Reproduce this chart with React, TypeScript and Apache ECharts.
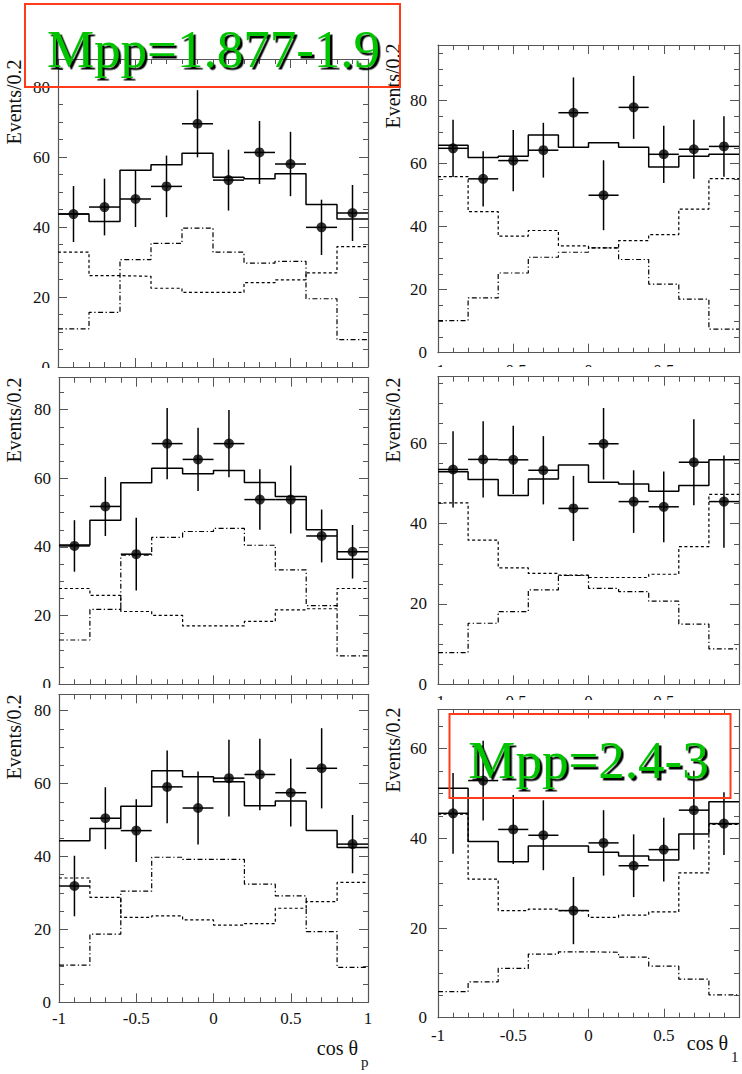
import React, { useEffect, useRef } from "react";
import * as echarts from "echarts";

// ---------- data ----------
const binEdges = [-1, -0.8, -0.6, -0.4, -0.2, 0, 0.2, 0.4, 0.6, 0.8, 1];
const binCenters = [-0.9, -0.7, -0.5, -0.3, -0.1, 0.1, 0.3, 0.5, 0.7, 0.9];
const xTickLabels = ["-1", "-0.5", "0", "0.5", "1"];
const yAxisTitle = "Events/0.2";
const xTitleLeft = "cos θ";
const xTitleLeftSub = "p";
const xTitleRight = "cos θ";
const xTitleRightSub = "1";
const boxLabelTop = "Mpp=1.877-1.9";
const boxLabelBottom = "Mpp=2.4-3";

// panel 1 (top-left)
const p1Data = [43.7, 45.7, 48.0, 51.6, 69.5, 53.4, 61.3, 58.0, 39.9, 44.0];
const p1Err = [8.0, 8.1, 8.0, 8.8, 9.6, 8.7, 9.0, 9.2, 7.9, 8.0];
const p1Fit = [43.7, 41.6, 56.2, 57.8, 61.1, 54.2, 53.8, 55.2, 46.4, 42.3];
const p1Dashed = [32.8, 26.1, 25.9, 22.5, 21.3, 21.3, 24.1, 24.9, 26.9, 34.4];
const p1DashDot = [10.9, 15.6, 30.7, 35.3, 39.7, 32.8, 29.7, 30.2, 19.5, 7.8];
const p1YMax = 88;

// panel 2 (top-right)
const p2Data = [64.9, 55.2, 61.0, 64.3, 76.2, 50.0, 77.9, 63.0, 64.6, 65.5];
const p2Err = [9.1, 8.8, 9.7, 8.7, 11.2, 11.1, 10.0, 9.1, 9.4, 9.6];
const p2Fit = [65.9, 62.0, 62.4, 69.1, 65.2, 66.7, 65.2, 59.0, 62.4, 63.0];
const p2Dashed = [55.9, 44.8, 37.0, 38.8, 33.9, 33.3, 35.6, 37.5, 45.6, 55.3];
const p2DashDot = [10.2, 17.4, 25.3, 30.3, 31.9, 33.3, 29.6, 21.8, 17.0, 7.5];
const p2YMax = 97.7;

// panel 3 (middle-left)
const p3Data = [40.3, 51.8, 37.9, 70.1, 65.5, 70.1, 53.8, 53.8, 43.2, 38.6];
const p3Err = [7.5, 8.6, 10.6, 10.4, 9.2, 9.8, 8.8, 9.9, 7.7, 7.8];
const p3Fit = [40.6, 47.8, 58.7, 62.9, 61.3, 62.3, 58.8, 54.7, 45.0, 36.4];
const p3Dashed = [27.9, 25.9, 21.2, 20.1, 17.0, 17.0, 18.3, 21.7, 22.0, 27.9];
const p3DashDot = [12.9, 21.8, 37.6, 42.8, 44.5, 45.4, 40.5, 33.3, 22.9, 8.3];
const p3YMax = 89.3;

// panel 4 (middle-right)
const p4Data = [53.5, 56.0, 55.9, 53.3, 43.8, 59.9, 45.5, 44.2, 55.3, 45.5];
const p4Err = [9.5, 9.5, 8.5, 8.5, 8.1, 8.9, 7.8, 8.8, 10.7, 11.5];
const p4Fit = [52.9, 51.0, 47.0, 51.1, 54.6, 50.3, 49.9, 48.1, 49.5, 55.9];
const p4Dashed = [45.2, 35.9, 29.0, 27.6, 27.2, 26.6, 26.6, 27.4, 34.3, 47.3];
const p4DashDot = [7.9, 15.2, 18.1, 23.5, 27.1, 23.9, 23.1, 20.7, 15.0, 8.8];
const p4YMax = 76.6;

// panel 5 (bottom-left)
const p5Data = [31.9, 50.5, 47.1, 59.1, 53.3, 61.5, 62.5, 57.5, 64.2, 43.4];
const p5Err = [8.3, 8.5, 8.6, 10.0, 10.0, 10.5, 9.8, 9.3, 11.0, 8.0];
const p5Fit = [44.3, 47.7, 53.8, 63.5, 61.9, 60.5, 53.9, 55.2, 47.1, 42.5];
const p5Dashed = [34.1, 28.8, 23.3, 23.7, 22.6, 21.2, 21.6, 25.8, 27.6, 32.9];
const p5DashDot = [10.2, 18.7, 30.5, 39.8, 39.2, 39.2, 32.4, 29.2, 19.4, 9.6];
const p5YMax = 84.5;

// panel 6 (bottom-right)
const p6Data = [45.6, 52.9, 42.0, 40.7, 23.9, 39.0, 33.9, 37.5, 46.3, 43.3];
const p6Err = [9.0, 8.9, 7.7, 7.8, 7.5, 7.3, 7.0, 7.1, 8.8, 7.0];
const p6Fit = [51.2, 39.3, 34.8, 38.3, 38.3, 36.9, 36.1, 35.2, 41.0, 48.2];
const p6Dashed = [45.4, 30.9, 23.9, 24.2, 23.9, 22.4, 22.9, 23.6, 32.3, 43.1];
const p6DashDot = [5.8, 8.0, 11.0, 14.2, 14.7, 14.6, 13.5, 11.5, 8.6, 5.1];
const p6YMax = 68.8;

const panels = [
  { data: p1Data, err: p1Err, fit: p1Fit, dashed: p1Dashed, dashdot: p1DashDot, yMax: p1YMax },
  { data: p2Data, err: p2Err, fit: p2Fit, dashed: p2Dashed, dashdot: p2DashDot, yMax: p2YMax },
  { data: p3Data, err: p3Err, fit: p3Fit, dashed: p3Dashed, dashdot: p3DashDot, yMax: p3YMax },
  { data: p4Data, err: p4Err, fit: p4Fit, dashed: p4Dashed, dashdot: p4DashDot, yMax: p4YMax },
  { data: p5Data, err: p5Err, fit: p5Fit, dashed: p5Dashed, dashdot: p5DashDot, yMax: p5YMax },
  { data: p6Data, err: p6Err, fit: p6Fit, dashed: p6Dashed, dashdot: p6DashDot, yMax: p6YMax },
];

// ---------- layout ----------
const layout = [
  { left: 58, top: 59, width: 310, height: 308, col: 0, xLabels: false },
  { left: 438, top: 45, width: 307, height: 307.7, col: 1, xLabels: true },
  { left: 59, top: 377.7, width: 309, height: 306.6, col: 0, xLabels: false },
  { left: 438, top: 376.7, width: 307, height: 307.6, col: 1, xLabels: true },
  { left: 59, top: 694.3, width: 309, height: 308, col: 0, xLabels: true },
  { left: 438, top: 709.3, width: 307, height: 308.4, col: 1, xLabels: true },
];

const FONT_FAMILY = "Liberation Serif";
const FRAME = "#555";
const INK = "#111";

function stepPoints(vals: number[]) {
  const out: number[][] = [];
  vals.forEach((v, k) => {
    out.push([binEdges[k], v]);
    out.push([binEdges[k + 1], v]);
  });
  return out;
}

function buildOption() {
  const grid: any[] = [];
  const xAxis: any[] = [];
  const yAxis: any[] = [];
  const series: any[] = [];

  panels.forEach((p, i) => {
    const L = layout[i];
    grid.push({ left: L.left, top: L.top, width: L.width, height: L.height, show: false });
    const tickStyle = { color: FRAME, width: 1 };
    const labelStyle = { fontFamily: FONT_FAMILY, fontSize: 17, color: INK };
    const frameLine = { show: true, onZero: false, lineStyle: { color: FRAME, width: 1.2 } };
    const noLine = { show: false, onZero: false };

    // bottom x axis
    xAxis.push({
      type: "value",
      gridIndex: i,
      position: "bottom",
      min: -1,
      max: 1,
      interval: 0.5,
      axisLine: frameLine,
      axisTick: { show: true, inside: true, length: 9, lineStyle: tickStyle },
      minorTick: { show: true, splitNumber: 5, length: 5, lineStyle: tickStyle },
      splitLine: { show: false },
      axisLabel: {
        ...labelStyle,
        show: L.xLabels,
        margin: L.col === 0 ? 8 : 9,
        formatter: (v: number) => {
          const idx = Math.round((v + 1) / 0.5);
          if (L.col === 1 && idx === 4) return "";
          return xTickLabels[idx] ?? "";
        },
      },
    });
    // top x axis (mirror)
    xAxis.push({
      type: "value",
      gridIndex: i,
      position: "top",
      min: -1,
      max: 1,
      interval: 0.5,
      axisLine: frameLine,
      axisTick: { show: true, inside: true, length: 9, lineStyle: tickStyle },
      minorTick: { show: true, splitNumber: 5, length: 5, lineStyle: tickStyle },
      splitLine: { show: false },
      axisLabel: { show: false },
    });
    // left major
    yAxis.push({
      type: "value",
      gridIndex: i,
      position: "left",
      min: 0,
      max: p.yMax,
      interval: 20,
      axisLine: frameLine,
      axisTick: { show: true, inside: true, length: 9, lineStyle: tickStyle },
      splitLine: { show: false },
      axisLabel: {
        ...labelStyle,
        margin: L.col === 0 ? 8 : 11,
        formatter: (v: number) => (Math.abs(v % 20) < 1e-6 ? String(v) : ""),
      },
    });
    // left minor
    yAxis.push({
      type: "value",
      gridIndex: i,
      position: "left",
      min: 0,
      max: p.yMax,
      interval: 5,
      axisLine: noLine,
      axisTick: { show: true, inside: true, length: 5, lineStyle: tickStyle },
      splitLine: { show: false },
      axisLabel: { show: false },
    });
    // right major
    yAxis.push({
      type: "value",
      gridIndex: i,
      position: "right",
      min: 0,
      max: p.yMax,
      interval: 20,
      axisLine: frameLine,
      axisTick: { show: true, inside: true, length: 9, lineStyle: tickStyle },
      splitLine: { show: false },
      axisLabel: { show: false },
    });
    // right minor
    yAxis.push({
      type: "value",
      gridIndex: i,
      position: "right",
      min: 0,
      max: p.yMax,
      interval: 5,
      axisLine: noLine,
      axisTick: { show: true, inside: true, length: 5, lineStyle: tickStyle },
      splitLine: { show: false },
      axisLabel: { show: false },
    });

    const xi = 2 * i;
    const yi = 4 * i;

    series.push({
      type: "line",
      xAxisIndex: xi,
      yAxisIndex: yi,
      data: stepPoints(p.dashed),
      symbol: "none",
      lineStyle: { color: "#000", width: 1.2, type: [3, 2.5] },
      z: 3,
    });
    series.push({
      type: "line",
      xAxisIndex: xi,
      yAxisIndex: yi,
      data: stepPoints(p.dashdot),
      symbol: "none",
      lineStyle: { color: "#000", width: 1.2, type: [5, 2.5, 1.3, 2.5] },
      z: 3,
    });
    series.push({
      type: "line",
      xAxisIndex: xi,
      yAxisIndex: yi,
      data: stepPoints(p.fit),
      symbol: "none",
      lineStyle: { color: "#000", width: 1.5, type: "solid" },
      z: 4,
    });
    series.push({
      type: "custom",
      xAxisIndex: xi,
      yAxisIndex: yi,
      data: binCenters.map((c, k) => [c, p.data[k], p.err[k], binEdges[k], binEdges[k + 1]]),
      encode: { x: 0, y: 1 },
      z: 5,
      renderItem: (_params: any, api: any) => {
        const x = api.value(0);
        const y = api.value(1);
        const e = api.value(2);
        const lo = api.value(3);
        const hi = api.value(4);
        const l = api.coord([lo, y]);
        const r = api.coord([hi, y]);
        const t = api.coord([x, y + e]);
        const b = api.coord([x, y - e]);
        return {
          type: "group",
          children: [
            { type: "line", shape: { x1: l[0], y1: l[1], x2: r[0], y2: r[1] }, style: { stroke: "#000", lineWidth: 1.5 } },
            { type: "line", shape: { x1: t[0], y1: t[1], x2: b[0], y2: b[1] }, style: { stroke: "#000", lineWidth: 1.5 } },
          ],
        };
      },
    });
    series.push({
      type: "scatter",
      xAxisIndex: xi,
      yAxisIndex: yi,
      data: binCenters.map((c, k) => [c, p.data[k]]),
      symbol: "circle",
      symbolSize: 10,
      itemStyle: { color: "#000" },
      z: 6,
    });
  });

  const textStyle = (text: string, size: number, fill: string, align: string, extra: any = {}) => ({
    text,
    fontFamily: FONT_FAMILY,
    fontSize: size,
    fill,
    align,
    verticalAlign: "middle",
    ...extra,
  });

  const yTitlePos = [
    { x: 14, y: 102 },
    { x: 393, y: 86 },
    { x: 14, y: 420 },
    { x: 393, y: 420 },
    { x: 14, y: 737 },
    { x: 393, y: 750 },
  ];

  const elements: any[] = [
    // covers between stacked pads
    { type: "rect", shape: { x: 0, y: 368, width: 395, height: 9 }, style: { fill: "#fff" }, z: 50 },
    { type: "rect", shape: { x: 395, y: 367, width: 347, height: 9 }, style: { fill: "#fff" }, z: 50 },
    { type: "rect", shape: { x: 0, y: 688, width: 395, height: 5.5 }, style: { fill: "#fff" }, z: 50 },
    { type: "rect", shape: { x: 395, y: 700, width: 347, height: 8.5 }, style: { fill: "#fff" }, z: 50 },
  ];
  yTitlePos.forEach((pos) => {
    elements.push({
      type: "text",
      x: pos.x,
      y: pos.y,
      rotation: Math.PI / 2,
      z: 55,
      style: textStyle(yAxisTitle, 20, INK, "center"),
    });
  });
  elements.push(
    { type: "text", x: 358, y: 1048, z: 55, style: textStyle(xTitleLeft, 20, INK, "right") },
    { type: "text", x: 361, y: 1062, z: 55, style: textStyle(xTitleLeftSub, 15, INK, "left") },
    { type: "text", x: 728, y: 1043, z: 55, style: textStyle(xTitleRight, 20, INK, "right") },
    { type: "text", x: 731, y: 1057, z: 55, style: textStyle(xTitleRightSub, 15, INK, "left") },
  );
  // labelled boxes
  const shadow = { textShadowColor: "#000", textShadowBlur: 0.6, textShadowOffsetX: 2.5, textShadowOffsetY: 2.5 };
  elements.push(
    { type: "rect", shape: { x: 25, y: 4, width: 375, height: 83 }, style: { fill: "none", stroke: "#ff3b1a", lineWidth: 2 }, z: 60 },
    { type: "text", x: 213.5, y: 49, z: 62, style: textStyle(boxLabelTop, 53, "#00c400", "center", shadow) },
    { type: "rect", shape: { x: 449.5, y: 714, width: 281, height: 84 }, style: { fill: "none", stroke: "#ff3b1a", lineWidth: 2 }, z: 60 },
    { type: "text", x: 588.5, y: 759.5, z: 62, style: textStyle(boxLabelBottom, 53, "#00c400", "center", shadow) },
  );

  return {
    animation: false,
    backgroundColor: "#fff",
    grid,
    xAxis,
    yAxis,
    series,
    graphic: { elements },
  };
}

export default function App() {
  const ref = useRef<HTMLDivElement>(null);
  useEffect(() => {
    if (!ref.current) return;
    const chart = echarts.init(ref.current, null, { renderer: "svg" });
    chart.setOption(buildOption());
    return () => chart.dispose();
  }, []);
  return (
    <div
      ref={ref}
      style={{ position: "fixed", left: 0, top: 0, width: 742, height: 1074, background: "#fff" }}
    />
  );
}
